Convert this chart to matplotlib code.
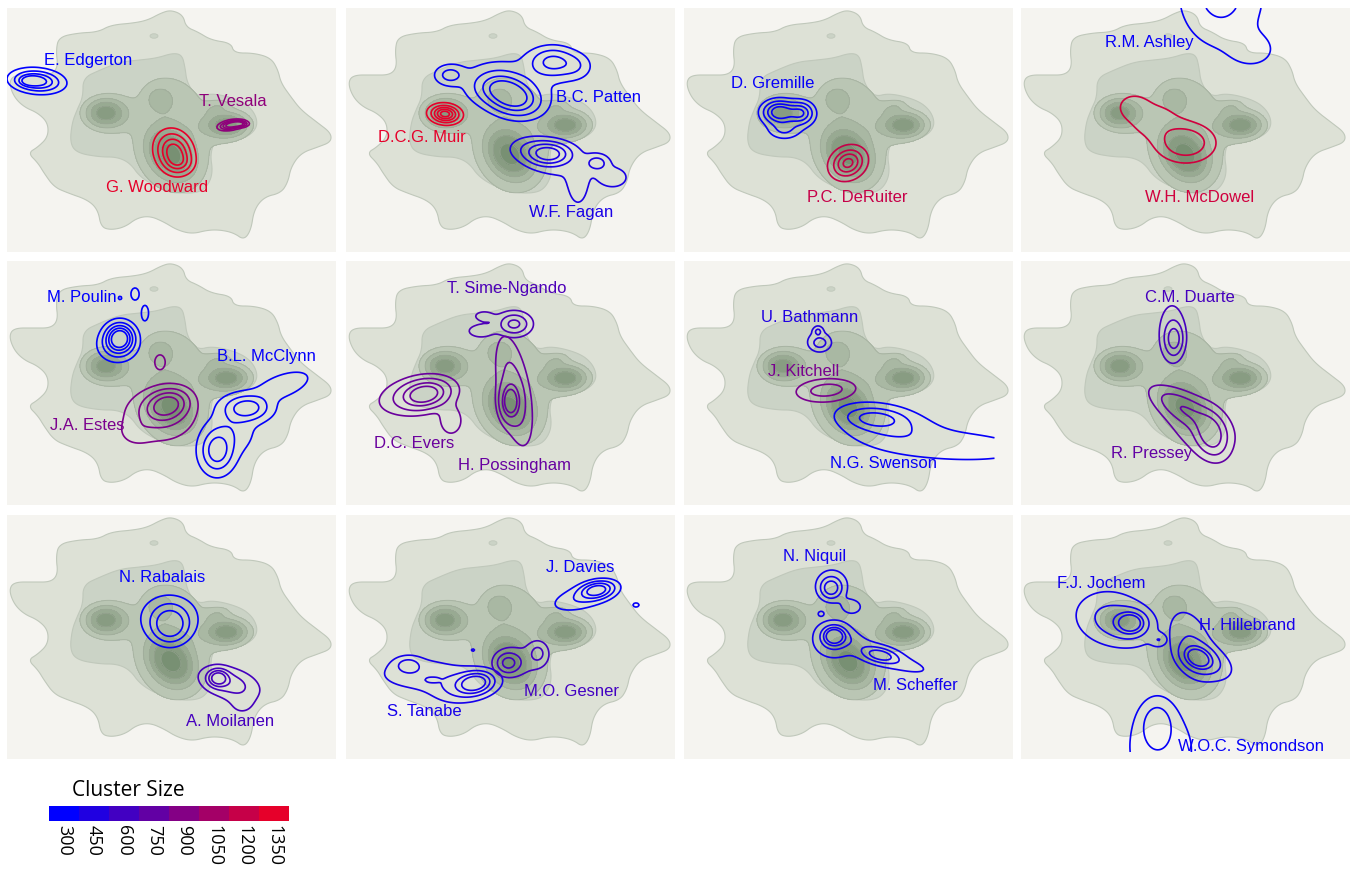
import numpy as np
import matplotlib
matplotlib.use('Agg')
import matplotlib.pyplot as plt
from matplotlib.colors import LinearSegmentedColormap, ListedColormap, BoundaryNorm
from matplotlib.patches import Polygon, Ellipse
import matplotlib.colorbar as mcolorbar

W, H = 1357, 873
PW, PH = 329, 244
col_x = [7, 346, 684, 1021]
row_y = [8, 261, 515]

# shared topic-map background (panel pixel coords, y down)
outer_x = [164, 176, 179, 191, 204, 224, 227, 247, 264, 271, 274, 284, 294, 311, 324, 324, 311, 294,
           284, 281, 274, 257, 247, 244, 237, 227, 214, 201, 185, 170, 157, 143, 130, 118, 104, 94,
           91, 81, 61, 47, 37, 31, 21, 31, 41, 41, 31, 17, 7, 2, 7, 27, 44, 51, 49, 52, 71, 91,
           104, 127, 141, 154]
outer_y = [2, 7, 19, 24, 32, 35, 45, 45, 50, 62, 75, 89, 102, 115, 125, 134, 139, 145,
           159, 174, 185, 189, 202, 222, 232, 225, 222, 222, 226, 222, 214, 208, 210, 219, 222, 219,
           202, 192, 185, 179, 165, 155, 145, 139, 129, 115, 105, 99, 89, 75, 67, 67, 67, 59, 42, 29, 25, 24,
           17, 15, 12, 5]
mid_x = [76, 93, 113, 133, 150, 166, 175, 178, 180, 190, 206, 233, 246, 251, 246, 233, 210, 203,
         206, 200, 190, 170, 150, 133, 123, 110, 93, 70, 63, 65, 70, 76]
mid_y = [70, 62, 54, 52, 50, 45, 47, 59, 75, 89, 85, 92, 102, 115, 125, 132, 129, 145,
         165, 179, 185, 185, 179, 169, 155, 149, 149, 145, 135, 115, 102, 89]
island = (147, 28, 8, 4.5)

# x, y, sx, sy, weight, angle
bg_peaks = [(164, 147, 17, 13, 1.0, 50),
            (166, 124, 36, 52, 0.40, 0),
            (152, 90, 10, 9, 0.30, 0),
            (98, 105, 15, 11, 0.95, 0),
            (221, 117, 15, 9, 0.92, 0),
            (210, 99, 9, 4.5, 0.22, -15)]
bg_levels = [0.25, 0.45, 0.65, 0.85, 1.15]
layer_colors = ['#dde1d6', '#cbd3c6', '#bac6b4', '#a9b8a3', '#98aa92', '#889c82', '#789073']

names = ['E. Edgerton', 'T. Vesala', 'G. Woodward',
         'D.C.G. Muir', 'B.C. Patten', 'W.F. Fagan',
         'D. Gremille', 'P.C. DeRuiter',
         'R.M. Ashley', 'W.H. McDowel',
         'M. Poulin', 'J.A. Estes', 'B.L. McClynn',
         'T. Sime-Ngando', 'D.C. Evers', 'H. Possingham',
         'U. Bathmann', 'J. Kitchell', 'N.G. Swenson',
         'C.M. Duarte', 'R. Pressey',
         'N. Rabalais', 'A. Moilanen',
         'J. Davies', 'S. Tanabe', 'M.O. Gesner',
         'N. Niquil', 'M. Scheffer',
         'F.J. Jochem', 'H. Hillebrand', 'W.O.C. Symondson']
panel_of = [0, 0, 0, 1, 1, 1, 2, 2, 3, 3, 4, 4, 4, 5, 5, 5, 6, 6, 6, 7, 7, 8, 8, 9, 9, 9, 10, 10, 11, 11, 11]
cluster_size = [300, 950, 1350, 1350, 330, 420, 330, 1200, 330, 1250, 300, 860, 320, 650, 780, 770,
                450, 850, 330, 620, 750, 320, 620, 330, 400, 600, 380, 380, 380, 400, 330]
label_x = [81, 226, 150, 76, 253, 225, 89, 173, 128, 179, 75, 80, 259, 161, 68, 168,
           126, 120, 199, 169, 131, 155, 223, 234, 78, 225, 131, 231, 80, 226, 230]
label_y = [52, 94, 180, 130, 89, 204, 75, 189, 34, 189, 37, 164, 96, 27, 182, 204,
           56, 111, 202, 36, 192, 63, 207, 52, 196, 176, 41, 171, 69, 111, 232]

kernels = [
    [(30, 73, 14, 6.3, 1.0, 5), (22, 73, 6, 3, 0.5, 0)],
    [(224, 117, 8, 3, 1.0, -10), (234, 116, 5, 2, 0.6, 0)],
    [(167, 144, 10, 12, 1.0, -25), (172, 155, 8, 6, 0.3, 0)],
    [(99, 106, 9, 5.5, 1.0, 5)],
    [(167, 89, 17, 11, 1.0, 15), (150, 78, 15, 10, 0.4, 0), (104, 67, 9, 6, 0.35, 0),
     (207, 54, 14, 9, 0.6, 0), (165, 70, 50, 20, 0.13, 0), (230, 58, 10, 8, 0.2, 0)],
    [(203, 146, 13, 7, 1.0, 0), (251, 155, 7, 5, 0.35, 0), (185, 140, 15, 8, 0.25, 0),
     (232, 180, 6, 12, 0.2, 0), (268, 170, 10, 7, 0.18, 0), (225, 160, 35, 18, 0.13, 0)],
    [(95, 104, 10, 7, 1.0, 0), (117, 105, 8, 7, 0.75, 0), (100, 122, 10, 6, 0.3, 0),
     (105, 110, 18, 12, 0.15, 0)],
    [(164, 155, 11, 9, 1.0, -30)],
    [(200, -15, 25, 32, 1.0, 0), (232, 42, 16, 12, 0.4, 0)],
    [(165, 135, 18, 12, 1.0, 0), (112, 98, 10, 8, 0.4, 0), (132, 112, 20, 14, 0.4, 0)],
    [(113, 76, 9, 9, 1.0, 0), (110, 85, 12, 10, 0.4, 0), (113, 37, 1.7, 1.7, 0.2, 0),
     (128, 33, 4, 6, 0.2, 0), (138, 52, 3.5, 7.5, 0.2, 0)],
    [(160, 144, 13, 9, 1.0, -15), (152, 155, 25, 18, 0.3, 0), (128, 172, 10, 8, 0.12, 0),
     (153, 101, 5, 7, 0.2, 0)],
    [(240, 147, 14, 8, 1.0, 0), (210, 190, 10, 13, 1.0, 0), (275, 125, 20, 8, 0.3, -20),
     (225, 170, 15, 15, 0.3, 0)],
    [(168, 63, 10, 7, 1.0, 0), (135, 70, 10, 5, 0.3, 0), (138, 55, 8, 4, 0.25, 0)],
    [(79, 133, 14, 8, 1.0, -10), (70, 135, 25, 12, 0.35, -10), (105, 160, 8, 10, 0.25, 0)],
    [(164, 141, 6, 11, 1.0, 0), (168, 130, 10, 35, 0.35, -10)],
    [(136, 82, 6, 4.5, 1.0, 0), (134, 70.5, 2.5, 2.5, 0.9, 0), (134, 76, 10, 12, 0.25, 0)],
    [(143, 129, 14, 5, 1.0, -5), (140, 130, 20, 9, 0.3, 0)],
    [(192, 158, 14, 5, 1.0, 5), (200, 162, 30, 12, 0.35, 10), (270, 185, 60, 12, 0.18, 3)],
    [(153, 78, 5, 9, 1.0, 0), (151, 72, 9, 20, 0.3, 0)],
    [(190, 174, 9, 13, 1.0, -20), (163, 148, 22, 8, 0.65, 30), (178, 165, 28, 20, 0.25, 35)],
    [(163, 110, 11, 11, 1.0, 0), (162, 102, 22, 17, 0.4, 0)],
    [(211, 163, 6, 5, 1.0, 0), (222, 168, 18, 9, 0.45, 15), (235, 190, 10, 8, 0.12, 0)],
    [(251, 75, 10, 5, 1.0, -10), (238, 82, 22, 8, 0.3, -15), (290, 90, 3, 2, 0.2, 0)],
    [(129, 168, 10, 6, 1.0, -10), (120, 172, 20, 10, 0.35, -10), (62, 150, 8, 5, 0.32, 0),
     (70, 155, 30, 12, 0.15, 0), (86, 165, 4, 1.5, 0.3, 0), (127, 135, 2.5, 2, 0.14, 0),
     (145, 116, 0.8, 0.8, 0.13, 0), (95, 165, 40, 10, 0.12, 0)],
    [(162, 148, 8, 7, 1.0, 0), (192, 138, 6, 7, 0.5, 0), (180, 145, 15, 12, 0.2, 0)],
    [(147, 73, 6, 6, 1.0, 0), (148, 70, 12, 12, 0.3, 0), (168, 92, 8, 6, 0.25, 0),
     (137, 99, 3.5, 3, 0.2, 0)],
    [(150, 121, 7, 6, 1.0, 0), (150, 125, 14, 12, 0.35, 0), (196, 140, 12, 5, 0.65, 10),
     (215, 148, 25, 6, 0.2, 15), (175, 128, 20, 6, 0.15, 20)],
    [(110, 108, 9, 7, 1.0, 0), (100, 108, 22, 14, 0.35, 15), (138, 125, 5, 4, 0.25, 0),
     (85, 100, 22, 18, 0.15, 0)],
    [(177, 143, 10, 7, 1.0, 25), (170, 130, 14, 25, 0.3, -20), (195, 150, 15, 10, 0.2, 30)],
    [(136, 210, 10, 15, 1.0, 0), (140, 235, 30, 35, 0.5, 0)],
]
levels = [
    [0.1, 0.3, 0.55, 0.8], [0.2, 0.4, 0.6, 0.8], [0.12, 0.3, 0.55, 0.8],
    [0.12, 0.3, 0.5, 0.7, 0.88], [0.12, 0.3, 0.55, 0.8], [0.12, 0.3, 0.55, 0.85],
    [0.15, 0.35, 0.6, 0.85], [0.15, 0.4, 0.65, 0.9],
    [0.25, 0.75], [0.25, 0.6],
    [0.12, 0.3, 0.5, 0.7, 0.9], [0.12, 0.3, 0.55, 0.85], [0.12, 0.4, 0.75],
    [0.15, 0.45, 0.85], [0.12, 0.3, 0.6, 0.9], [0.1, 0.25, 0.6, 0.85],
    [0.25, 0.8], [0.2, 0.75], [0.1, 0.3, 0.75],
    [0.12, 0.35, 0.8], [0.15, 0.4, 0.8],
    [0.2, 0.45, 0.8], [0.1, 0.3, 0.55, 0.85],
    [0.12, 0.3, 0.55, 0.85], [0.12, 0.3, 0.55, 0.85], [0.15, 0.45, 0.85],
    [0.15, 0.4, 0.8], [0.12, 0.35, 0.6, 0.85],
    [0.1, 0.3, 0.6, 0.85], [0.12, 0.3, 0.6, 0.85], [0.3, 0.75],
]
# where the estimate grid stops (x max, y max)
grid_limit = {'N.G. Swenson': (311, PH), 'W.O.C. Symondson': (PW, 237)}

size_ticks = [300, 450, 600, 750, 900, 1050, 1200, 1350]

label_font = ['Liberation Sans Narrow', 'Liberation Sans', 'DejaVu Sans']


def field(X, Y, kern):
    Z = np.zeros_like(X)
    for x0, y0, sx, sy, w, ang in kern:
        a = np.deg2rad(ang)
        dx, dy = X - x0, Y - y0
        u = dx * np.cos(a) + dy * np.sin(a)
        v = -dx * np.sin(a) + dy * np.cos(a)
        Z += w * np.exp(-0.5 * ((u / sx) ** 2 + (v / sy) ** 2))
    return Z


def chaikin(xs, ys, n=3):
    P = np.column_stack([xs, ys]).astype(float)
    for _ in range(n):
        Q = np.roll(P, -1, axis=0)
        A = 0.75 * P + 0.25 * Q
        B = 0.25 * P + 0.75 * Q
        P = np.empty((2 * len(P), 2))
        P[0::2], P[1::2] = A, B
    return P


cmap = LinearSegmentedColormap.from_list('cluster', ['#0000ff', '#e6002a'])


def size_color(s):
    return cmap((s - 300) / 1050.0)


gx = np.arange(0, PW + 1, 2.0)
gy = np.arange(0, PH + 1, 2.0)
GX, GY = np.meshgrid(gx, gy)
G = field(GX, GY, bg_peaks)
outer_poly = chaikin(outer_x, outer_y)
mid_poly = chaikin(mid_x, mid_y)
edge = '#c0c8bb'

fig = plt.figure(figsize=(W / 100, H / 100), dpi=100)
fig.patch.set_facecolor('white')

axes = []
for r in range(3):
    for c in range(4):
        ax = fig.add_axes([col_x[c] / W, 1 - (row_y[r] + PH) / H, PW / W, PH / H])
        ax.set_facecolor('#f5f4f0')
        ax.set_xlim(0, PW)
        ax.set_ylim(PH, 0)
        ax.set_xticks([])
        ax.set_yticks([])
        for s in ax.spines.values():
            s.set_visible(False)
        ax.add_patch(Polygon(outer_poly, closed=True, fc=layer_colors[0], ec=edge, lw=0.8))
        ax.add_patch(Polygon(mid_poly, closed=True, fc=layer_colors[1], ec=edge, lw=0.8))
        ax.add_patch(Ellipse(island[:2], island[2], island[3], fc=layer_colors[1], ec=edge, lw=0.6))
        ax.contourf(GX, GY, G, levels=bg_levels + [10], colors=layer_colors[2:])
        ax.contour(GX, GY, G, levels=bg_levels, colors='#9ca797', linewidths=0.7, alpha=0.6)
        axes.append(ax)

for i, name in enumerate(names):
    ax = axes[panel_of[i]]
    col = size_color(cluster_size[i])
    xmax, ymax = grid_limit.get(name, (PW, PH))
    ax_x = np.arange(0, xmax + 0.1, 1.5)
    ax_y = np.arange(0, ymax + 0.1, 1.5)
    AX, AY = np.meshgrid(ax_x, ax_y)
    Z = field(AX, AY, kernels[i])
    ax.contour(AX, AY, Z, levels=levels[i], colors=[col], linewidths=1.2, zorder=5)
    ax.text(label_x[i], label_y[i], name, color=col, fontsize=12, family=label_font,
            ha='center', va='center', zorder=6)

# cluster size legend
cax = fig.add_axes([49 / W, 1 - 821 / H, 240 / W, 15 / H])
bounds = np.arange(225, 1426, 150)
lcmap = ListedColormap([size_color(s) for s in size_ticks])
cb = mcolorbar.ColorbarBase(cax, cmap=lcmap, norm=BoundaryNorm(bounds, lcmap.N),
                            orientation='horizontal', ticks=size_ticks)
cb.outline.set_visible(False)
cax.minorticks_off()
cax.tick_params(which='both', length=0, pad=3)
cax.set_xticklabels([str(s) for s in size_ticks], rotation=270, fontsize=13,
                    family=['Open Sans', 'DejaVu Sans'], va='top')
fig.text(72 / W, 1 - 790 / H, 'Cluster Size', fontsize=15, family=['Open Sans', 'DejaVu Sans'],
         ha='left', va='center')

fig.savefig('out.png', dpi=100)
